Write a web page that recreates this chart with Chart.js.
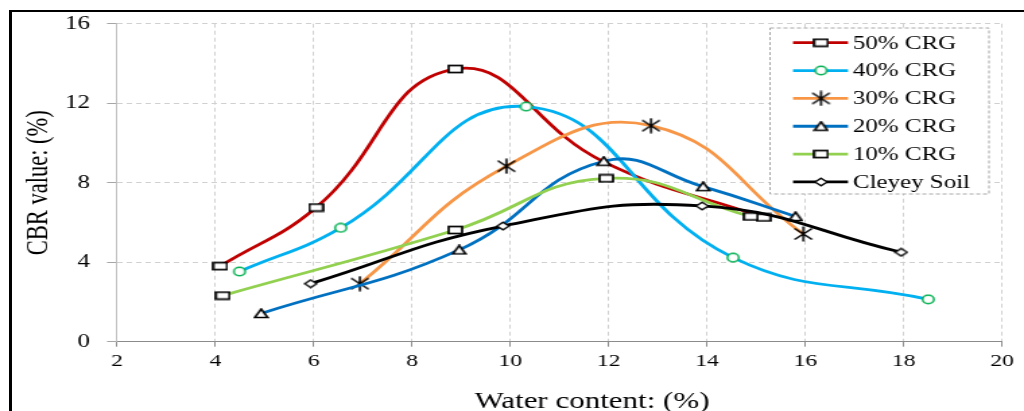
<!DOCTYPE html>
<html>
<head>
<meta charset="utf-8">
<script src="https://cdn.jsdelivr.net/npm/chart.js@4.4.1/dist/chart.umd.min.js"></script>
<style>
  html,body{margin:0;padding:0;background:#fff;}
  #wrap{position:relative;width:1024px;height:411px;overflow:hidden;background:#fff;}
  #c{position:absolute;left:0;top:0;}
  #frame{position:absolute;left:9px;top:10px;right:-10px;bottom:-10px;border-left:3px solid #000;border-top:2px solid #000;pointer-events:none;}
</style>
</head>
<body>
<div id="wrap">
  <canvas id="c" width="760" height="411" style="width:1024px;height:411px"></canvas>
  <div id="frame"></div>
</div>
<script>
// series (water content %, CBR %)
const names = ['50% CRG','40% CRG','30% CRG','20% CRG','10% CRG','Cleyey Soil'];
const x50 = [4.1, 6.05, 8.88, 11.9, 15.15];
const y50 = [3.8, 6.75, 13.72, 9.05, 6.25];
const x40 = [4.49, 6.55, 10.32, 14.53, 18.5];
const y40 = [3.53, 5.73, 11.83, 4.23, 2.13];
const x30 = [6.94, 9.92, 12.86, 15.96];
const y30 = [2.92, 8.83, 10.87, 5.42];
const x20 = [4.93, 8.96, 11.9, 13.92, 15.8];
const y20 = [1.42, 4.62, 9.08, 7.8, 6.3];
const x10 = [4.15, 8.88, 11.95, 14.89];
const y10 = [2.32, 5.62, 8.22, 6.3];
const xSoil = [5.94, 9.85, 13.9, 17.95];
const ySoil = [2.92, 5.82, 6.83, 4.5];
const xTicks = [2,4,6,8,10,12,14,16,18,20];
const yTicks = [0,4,8,12,16];

const FONT = '"Liberation Serif", "Times New Roman", serif';
// canvas is drawn narrow and stretched to 1024 wide, like the original picture
const SX = 1024/760;

function pts(xs, ys){ return xs.map((x,i)=>({x:x, y:ys[i]})); }

function makeMarker(w, h, draw){
  const c = document.createElement('canvas');
  c.width = w; c.height = h;
  const g = c.getContext('2d');
  draw(g);
  return c;
}
const mSquare = makeMarker(12, 10, g=>{
  g.fillStyle='#fff'; g.strokeStyle='#000'; g.lineWidth=1.7;
  g.fillRect(1,1.5,10,7); g.strokeRect(1,1.5,10,7);
});
const mCircle = makeMarker(12, 11, g=>{
  g.beginPath(); g.arc(6,5.5,4.2,0,Math.PI*2);
  g.fillStyle='#fff'; g.fill();
  g.strokeStyle='#00B050'; g.lineWidth=1.5; g.stroke();
});
const mStar = makeMarker(16, 16, g=>{
  g.strokeStyle='#000'; g.lineWidth=1.6; g.beginPath();
  g.moveTo(8,0.5); g.lineTo(8,15.5);
  g.moveTo(1.5,2.5); g.lineTo(14.5,13.5);
  g.moveTo(14.5,2.5); g.lineTo(1.5,13.5);
  g.stroke();
});
const mTriangle = makeMarker(12, 11, g=>{
  g.beginPath(); g.moveTo(6,1); g.lineTo(10.8,9.5); g.lineTo(1.2,9.5); g.closePath();
  g.fillStyle='#fff'; g.fill(); g.strokeStyle='#000'; g.lineWidth=1.6; g.stroke();
});
const mDiamond = makeMarker(11, 10, g=>{
  g.beginPath(); g.moveTo(5.5,1.2); g.lineTo(10,5); g.lineTo(5.5,8.8); g.lineTo(1,5); g.closePath();
  g.fillStyle='#fff'; g.fill(); g.strokeStyle='#000'; g.lineWidth=1.4; g.stroke();
});

function series(i, xs, ys, color, marker, radius){
  return {
    label: names[i], data: pts(xs, ys),
    borderColor: color, backgroundColor: color, borderWidth: 2.8,
    pointStyle: marker, pointRadius: radius || 5,
    tension: 0.45, fill: false, order: 6 - i
  };
}

const datasets = [
  series(0, x50, y50, '#C00000', mSquare, [5,5,5,0,5]), // 4th point hidden under the triangle
  series(1, x40, y40, '#00B0F0', mCircle),
  series(2, x30, y30, '#F79646', mStar),
  series(3, x20, y20, '#0070C0', mTriangle),
  series(4, x10, y10, '#92D050', mSquare),
  series(5, xSoil, ySoil, '#000000', mDiamond)
];

// boxed legend inside the plot, plus x title
const extras = {
  id: 'extras',
  afterDraw(chart){
    const ctx = chart.ctx;
    ctx.save();
    const bx = 770/SX, bw = (989-770)/SX, by = 28, bh = 166;
    ctx.fillStyle = '#fff';
    ctx.fillRect(bx, by, bw, bh);
    ctx.setLineDash([3,2]);
    ctx.strokeStyle = '#a6a6a6'; ctx.lineWidth = 1;
    ctx.strokeRect(bx, by, bw, bh);
    ctx.setLineDash([]);
    ctx.font = '18.5px ' + FONT;
    ctx.textBaseline = 'middle';
    ctx.fillStyle = '#000';
    chart.data.datasets.forEach((ds, i)=>{
      const y = 42.7 + i*27.85;
      ctx.strokeStyle = ds.borderColor; ctx.lineWidth = 2.8;
      ctx.beginPath(); ctx.moveTo(793/SX, y); ctx.lineTo(848/SX, y); ctx.stroke();
      const m = ds.pointStyle;
      ctx.drawImage(m, 821/SX - m.width/2, y - m.height/2);
      ctx.fillText(ds.label, 853/SX, y + 1);
    });
    ctx.font = '23px ' + FONT;
    ctx.textAlign = 'center';
    ctx.fillText('Water content: (%)', 592/SX, 402);
    ctx.restore();
  }
};

new Chart(document.getElementById('c'), {
  type: 'line',
  data: { datasets },
  plugins: [extras],
  options: {
    responsive: false,
    animation: false,
    layout: { padding: { left: 18, right: 760 - 1002/SX, top: 21.5, bottom: 0 } },
    plugins: { legend: { display: false }, tooltip: { enabled: false } },
    scales: {
      x: {
        type: 'linear', min: 2, max: 20,
        afterBuildTicks: s => { s.ticks = xTicks.map(v=>({value:v})); },
        ticks: { color: '#000', font: { family: FONT, size: 17.5 }, padding: 4.5, maxRotation: 0 },
        grid: { color: '#d0d0d0', lineWidth: 1, tickLength: 5, tickColor: '#8c8c8c' },
        border: { color: '#8c8c8c', width: 1, dash: [4,3] },
        afterFit: s => { s.height = 411 - 341.7; }
      },
      y: {
        min: 0, max: 16,
        afterBuildTicks: s => { s.ticks = yTicks.map(v=>({value:v})); },
        ticks: { color: '#000', font: { family: FONT, size: 18.5 }, padding: 12.6 },
        grid: { color: '#d0d0d0', lineWidth: 1, tickLength: 7.4, tickColor: '#a6a6a6' },
        border: { color: '#bfbfbf', width: 1, dash: [4,3] },
        title: { display: true, text: 'CBR value: (%)', color: '#000',
                 font: { family: FONT, size: 22.5, lineHeight: 1 }, padding: 0 },
        afterFit: s => { s.width = 117/SX - 18; }
      }
    }
  }
});
</script>
</body>
</html>
